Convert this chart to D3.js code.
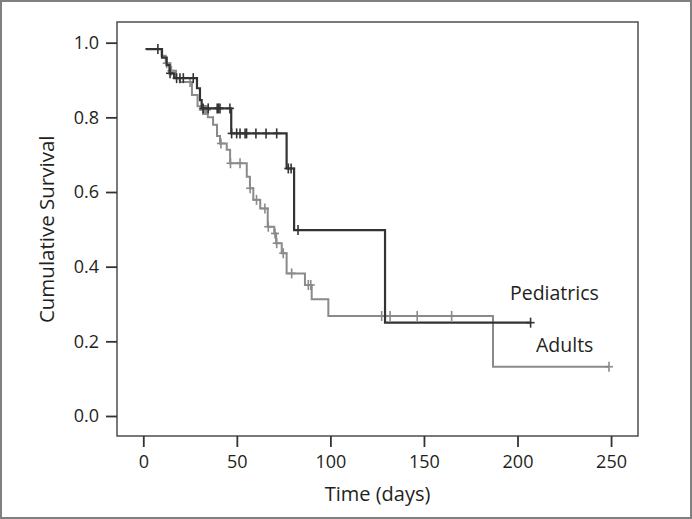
<!DOCTYPE html>
<html><head><meta charset="utf-8">
<script src="https://cdn.jsdelivr.net/npm/d3@7/dist/d3.min.js"></script>
<style>
html,body{margin:0;padding:0;background:#fff;}
svg text{font-family:"Open Sans",sans-serif;fill:#231f20;}
</style></head>
<body><svg id="c" width="692" height="519"></svg>
<script>
// ---- Data ----
const xTicks = [0, 50, 100, 150, 200, 250];
const yTicks = [0.0, 0.2, 0.4, 0.6, 0.8, 1.0];
const seriesNames = ["Pediatrics", "Adults"];

// Pediatrics: start, step times and survival after each step, end time
const pedStart = [1.5, 0.983];
const pedStepTimes  = [10, 12.5, 14, 16.5, 28.7, 30.3, 31.2, 47, 76.6, 80.6, 129.2];
const pedStepValues = [0.96, 0.94, 0.918, 0.905, 0.878, 0.846, 0.824, 0.757, 0.663, 0.498, 0.25];
const pedEnd = 207;
const pedCensored = [7.8, 14.3, 17.8, 19.6, 21.4, 26.7, 32, 34.7, 39.5, 40.2, 41, 46.3,
                     47.2, 49.9, 51.7, 54.4, 55.2, 60.2, 65.6, 71.3, 77.5, 79, 82.7, 207];

// Adults
const adStart = [0.9, 0.983];
const adStepTimes  = [9.8, 12.0, 14.5, 17.5, 19.5, 26.0, 29.0, 31.5, 34.5, 37.3, 39.4, 41.0, 44.6, 46.4,
                      55.3, 57.0, 58.8, 62.5, 66.5, 70.0, 71.0, 74.0, 76.6, 86.4, 90.0, 98.9, 186.9];
const adStepValues = [0.965, 0.945, 0.925, 0.905, 0.895, 0.86, 0.83, 0.82, 0.80, 0.78, 0.75, 0.73, 0.713, 0.677,
                      0.641, 0.61, 0.579, 0.556, 0.507, 0.489, 0.463, 0.436, 0.382, 0.351, 0.313, 0.268, 0.132];
const adEnd = 248.9;
const adCensored = [12.5, 15, 25, 31.8, 32.5, 33.2, 34, 41.5, 46.6, 51.7, 57.1, 60.5, 65.0, 66.8,
                    70.4, 71.3, 74.8, 79.3, 88.2, 89.5, 127.4, 131.9, 146.4, 164.8, 248.9];

// ---- Drawing ----
const svg = d3.select("#c");
const W = 692, H = 519;
const box = {l: 117, r: 638, t: 22, b: 436};

svg.append("rect").attr("x", 1).attr("y", 1).attr("width", W - 2).attr("height", H - 2)
  .attr("fill", "#fff").attr("stroke", "#808080").attr("stroke-width", 2);

const x = d3.scaleLinear().domain([-14.05, 264.4]).range([box.l, box.r]);
const y = d3.scaleLinear().domain([-0.0536, 1.0554]).range([box.b, box.t]);

svg.append("rect").attr("x", box.l).attr("y", box.t)
  .attr("width", box.r - box.l).attr("height", box.b - box.t)
  .attr("fill", "none").attr("stroke", "#4d4d4d").attr("stroke-width", 1.5);

const gy = svg.append("g").attr("transform", `translate(${box.l},0)`)
  .call(d3.axisLeft(y).tickValues(yTicks).tickFormat(d3.format(".1f")).tickSize(11).tickPadding(7));
const gx = svg.append("g").attr("transform", `translate(0,${box.b})`)
  .call(d3.axisBottom(x).tickValues(xTicks).tickSize(11).tickPadding(8));
[gx, gy].forEach(g => {
  g.select(".domain").remove();
  g.selectAll(".tick line").attr("stroke", "#333").attr("stroke-width", 1.8);
  g.selectAll(".tick text").attr("font-size", 18).attr("fill", "#231f20")
    .attr("font-family", '"Open Sans",sans-serif');
});

svg.append("text").attr("x", (box.l + box.r) / 2).attr("y", 501)
  .attr("text-anchor", "middle").attr("font-size", 20).text("Time (days)");
svg.append("text").attr("transform", `translate(54,${y(0.5)}) rotate(-90)`)
  .attr("text-anchor", "middle").attr("font-size", 20.5).text("Cumulative Survival");

function buildSeries(start, times, values, end) {
  const pts = [start];
  times.forEach((t, i) => pts.push([t, values[i]]));
  pts.push([end, values[values.length - 1]]);
  return pts;
}
function valueAt(start, times, values, t) {
  let v = start[1];
  times.forEach((tt, i) => { if (tt <= t) v = values[i]; });
  return v;
}
const line = d3.line().x(d => x(d[0])).y(d => y(d[1])).curve(d3.curveStepAfter);

const groups = [
  {start: adStart, times: adStepTimes, vals: adStepValues, end: adEnd, cens: adCensored, color: "#8a8a8a", w: 2},
  {start: pedStart, times: pedStepTimes, vals: pedStepValues, end: pedEnd, cens: pedCensored, color: "#333333", w: 2.2}
];
groups.forEach(g => {
  svg.append("path").datum(buildSeries(g.start, g.times, g.vals, g.end))
    .attr("d", line).attr("fill", "none").attr("stroke", g.color).attr("stroke-width", g.w);
  const cg = svg.append("g").attr("stroke", g.color).attr("stroke-width", 1.6);
  g.cens.forEach(t => {
    const cx = x(t), cy = y(valueAt(g.start, g.times, g.vals, t));
    cg.append("line").attr("x1", cx).attr("x2", cx).attr("y1", cy - 5).attr("y2", cy + 5);
    cg.append("line").attr("x1", cx - 4).attr("x2", cx + 4).attr("y1", cy).attr("y2", cy);
  });
});

svg.append("text").attr("x", 510).attr("y", 300).attr("font-size", 19.5).text(seriesNames[0]);
svg.append("text").attr("x", 536).attr("y", 352).attr("font-size", 19.5).text(seriesNames[1]);
</script></body></html>
